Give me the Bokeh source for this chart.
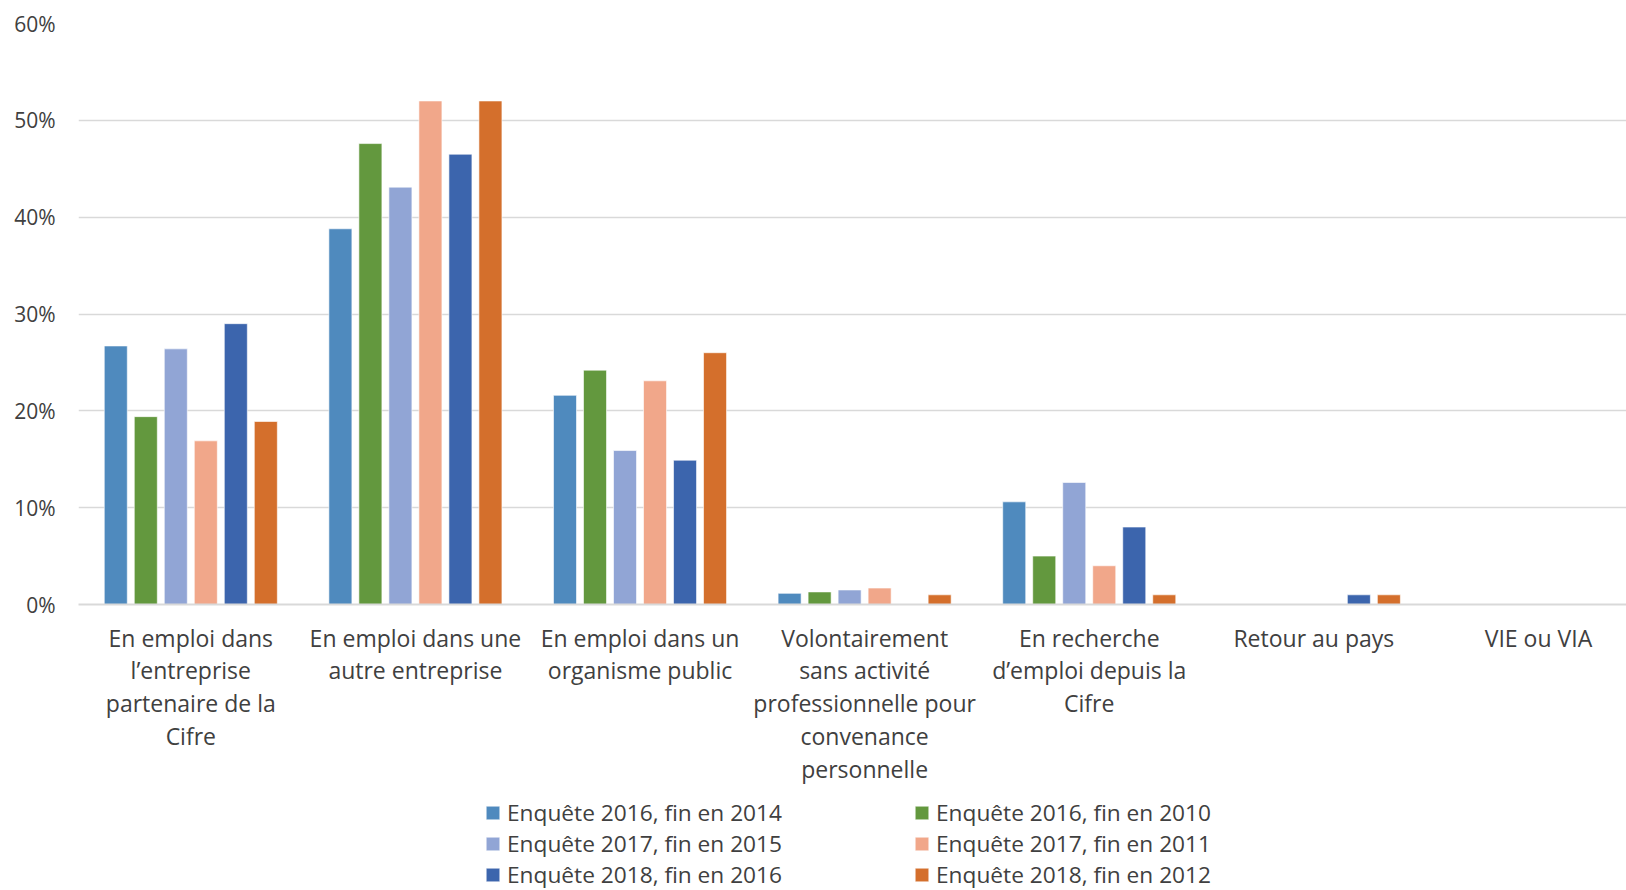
from bokeh.plotting import figure
from bokeh.layouts import column
from bokeh.models import (ColumnDataSource, Range1d, FixedTicker, NumeralTickFormatter,
                          Legend, LegendItem)
from bokeh.embed import file_html
from bokeh.resources import INLINE

categories = [
    "En emploi dans\nl’entreprise\npartenaire de la\nCifre",
    "En emploi dans une\nautre entreprise",
    "En emploi dans un\norganisme public",
    "Volontairement\nsans activité\nprofessionnelle pour\nconvenance\npersonnelle",
    "En recherche\nd’emploi depuis la\nCifre",
    "Retour au pays",
    "VIE ou VIA",
]

series_names = [
    "Enquête 2016, fin en 2014",
    "Enquête 2016, fin en 2010",
    "Enquête 2017, fin en 2015",
    "Enquête 2017, fin en 2011",
    "Enquête 2018, fin en 2016",
    "Enquête 2018, fin en 2012",
]

v_2016_2014 = [26.7, 38.8, 21.6, 1.15, 10.6, 0.0, 0.0]
v_2016_2010 = [19.4, 47.6, 24.2, 1.3, 5.0, 0.0, 0.0]
v_2017_2015 = [26.4, 43.1, 15.9, 1.5, 12.6, 0.0, 0.0]
v_2017_2011 = [16.9, 52.0, 23.1, 1.7, 4.0, 0.0, 0.0]
v_2018_2016 = [29.0, 46.5, 14.9, 0.0, 8.0, 1.0, 0.0]
v_2018_2012 = [18.9, 52.0, 26.0, 1.0, 1.0, 1.0, 0.0]

series_values = [v_2016_2014, v_2016_2010, v_2017_2015, v_2017_2011, v_2018_2016, v_2018_2012]
colors = ["#4F8ABE", "#63983E", "#91A5D5", "#F1A78A", "#3C65AD", "#D46F2C"]

y_ticks = [0.0, 0.1, 0.2, 0.3, 0.4, 0.5, 0.6]

TEXT = "#404040"
GRID = "#d9d9d9"

W = 1626
H_MAIN = 788
H_LEG = 102

p = figure(width=W, height=H_MAIN, output_backend="svg", toolbar_location=None,
           x_range=Range1d(-0.5, 6.392), y_range=Range1d(0, 0.6),
           min_border_left=78, min_border_right=0, min_border_top=23,
           min_border_bottom=H_MAIN - 23 - 581)
p.outline_line_color = None
p.background_fill_color = "white"

stride = 0.1336
bar_w = 0.1025
sources = []
renderers = []
for i, (vals, col) in enumerate(zip(series_values, colors)):
    off = (i - 2.5) * stride
    src = ColumnDataSource(dict(x=[k + off for k in range(len(categories))],
                                top=[v / 100.0 for v in vals]))
    sources.append(src)
    r = p.vbar(x="x", top="top", width=bar_w, source=src, fill_color=col,
               line_color="white", line_width=0.6)
    renderers.append(r)

# axes
p.xaxis.ticker = FixedTicker(ticks=list(range(len(categories))))
p.xaxis.major_label_overrides = {i: c for i, c in enumerate(categories)}
p.xaxis.major_tick_line_color = None
p.xaxis.minor_tick_line_color = None
p.xaxis.major_tick_out = 0
p.xaxis.major_tick_in = 0
p.xaxis.axis_line_color = GRID
p.xaxis.axis_line_width = 2
p.xaxis.major_label_text_font = "Open Sans"
p.xaxis.major_label_text_font_size = "23px"
p.xaxis.major_label_text_color = TEXT
p.xaxis.major_label_text_line_height = 1.03
p.xaxis.major_label_standoff = 17

p.yaxis.ticker = FixedTicker(ticks=y_ticks)
p.yaxis.formatter = NumeralTickFormatter(format="0%")
p.yaxis.axis_line_color = None
p.yaxis.major_tick_line_color = None
p.yaxis.minor_tick_line_color = None
p.yaxis.major_tick_out = 0
p.yaxis.major_tick_in = 0
p.yaxis.major_label_text_font = "Open Sans"
p.yaxis.major_label_text_font_size = "21px"
p.yaxis.major_label_text_color = TEXT
p.yaxis.major_label_standoff = 23

p.xgrid.grid_line_color = None
p.ygrid.ticker = FixedTicker(ticks=y_ticks)
p.ygrid.grid_line_color = GRID
p.ygrid.grid_line_width = 1.5

# legend panel: a separate figure below the chart; its glyph proxies share the
# series sources but lie outside its (empty) view, so only the legend shows.
lf = figure(width=W, height=H_LEG, output_backend="svg", toolbar_location=None,
            x_range=Range1d(100, 101), y_range=Range1d(100, 101),
            x_axis_location=None, y_axis_location=None,
            min_border=0, min_border_left=0, min_border_right=0,
            min_border_top=0, min_border_bottom=0)
lf.grid.visible = False
lf.outline_line_color = None
proxies = []
for src, col in zip(sources, colors):
    proxies.append(lf.vbar(x="x", top="top", width=bar_w, source=src, fill_color=col,
                           line_color="white", line_width=0.6))


def make_row_legend(idx, loc):
    items = [LegendItem(label=series_names[i], renderers=[proxies[i]]) for i in idx]
    return Legend(items=items, location=loc, orientation="horizontal",
                  border_line_color=None, background_fill_alpha=0,
                  padding=0, margin=0, spacing=0,
                  label_text_font="Open Sans", label_text_font_size="22.7px",
                  label_text_color=TEXT,
                  glyph_width=17, glyph_height=17,
                  label_standoff=6, label_height=17, label_width=406)


row_offsets = [61.55, 30.55, -0.45]
for r_i, vy in enumerate(row_offsets):
    lf.add_layout(make_row_legend([2 * r_i, 2 * r_i + 1], (406, vy)), "center")

layout = column(p, lf, spacing=0)
open("out.html", "w").write(file_html(layout, INLINE))
